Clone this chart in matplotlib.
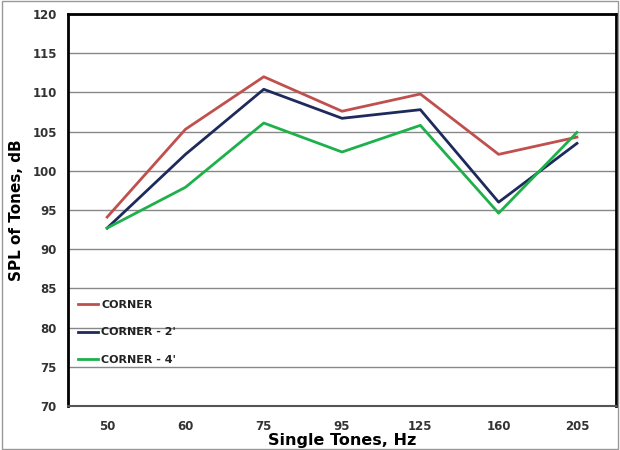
import matplotlib
matplotlib.use('Agg')
from matplotlib import pyplot as plt
from matplotlib.patches import Rectangle

tones = ['50', '60', '75', '95', '125', '160', '205']
corner = [94.1, 105.3, 112.0, 107.6, 109.8, 102.1, 104.3]
corner_2 = [92.7, 102.1, 110.4, 106.7, 107.8, 96.0, 103.5]
corner_4 = [92.7, 97.9, 106.1, 102.4, 105.8, 94.6, 104.9]

plt.rcParams['font.family'] = 'DejaVu Sans'

fig = plt.figure(figsize=(6.2, 4.5), dpi=100)
ax = fig.add_axes([0.1097, 0.0978, 0.884, 0.871])

x = range(len(tones))
ax.plot(x, corner, color='#c0504d', lw=2.0, label='CORNER')
ax.plot(x, corner_2, color='#1f2a5c', lw=2.0, label="CORNER - 2'")
ax.plot(x, corner_4, color='#1db04b', lw=2.0, label="CORNER - 4'")

ax.set_xlim(-0.5, len(tones) - 0.5)
ax.set_ylim(70, 120)
ax.set_yticks(range(70, 121, 5))
ax.set_xticks(list(x))
ax.set_xticklabels(tones)
ax.tick_params(length=0, labelsize=8.5)
ax.tick_params(axis='x', pad=10)
ax.tick_params(axis='y', pad=8)
for lab in ax.get_xticklabels() + ax.get_yticklabels():
    lab.set_fontweight('bold')
    lab.set_color('#333333')
ax.yaxis.grid(True, color='#888888', lw=1)
ax.set_axisbelow(True)

for side in ['left', 'top', 'right']:
    ax.spines[side].set_linewidth(2)
    ax.spines[side].set_color('black')
ax.spines['bottom'].set_linewidth(1.5)
ax.spines['bottom'].set_color('#555555')

ax.set_xlabel('Single Tones, Hz', fontsize=11.5, fontweight='bold', labelpad=0)
ax.set_ylabel('SPL of Tones, dB', fontsize=11, fontweight='bold', labelpad=6)

leg = ax.legend(loc='lower left', bbox_to_anchor=(0.0, 0.08), frameon=False,
                fontsize=8, handlelength=1.8, handletextpad=0.3, labelspacing=1.55)
for t in leg.get_texts():
    t.set_fontweight('bold')
    t.set_color('#222222')

fig.patches.append(Rectangle((0.003, 0.003), 0.994, 0.994, transform=fig.transFigure,
                             fill=False, edgecolor='#999999', lw=1))

fig.savefig('out.png', dpi=100)
